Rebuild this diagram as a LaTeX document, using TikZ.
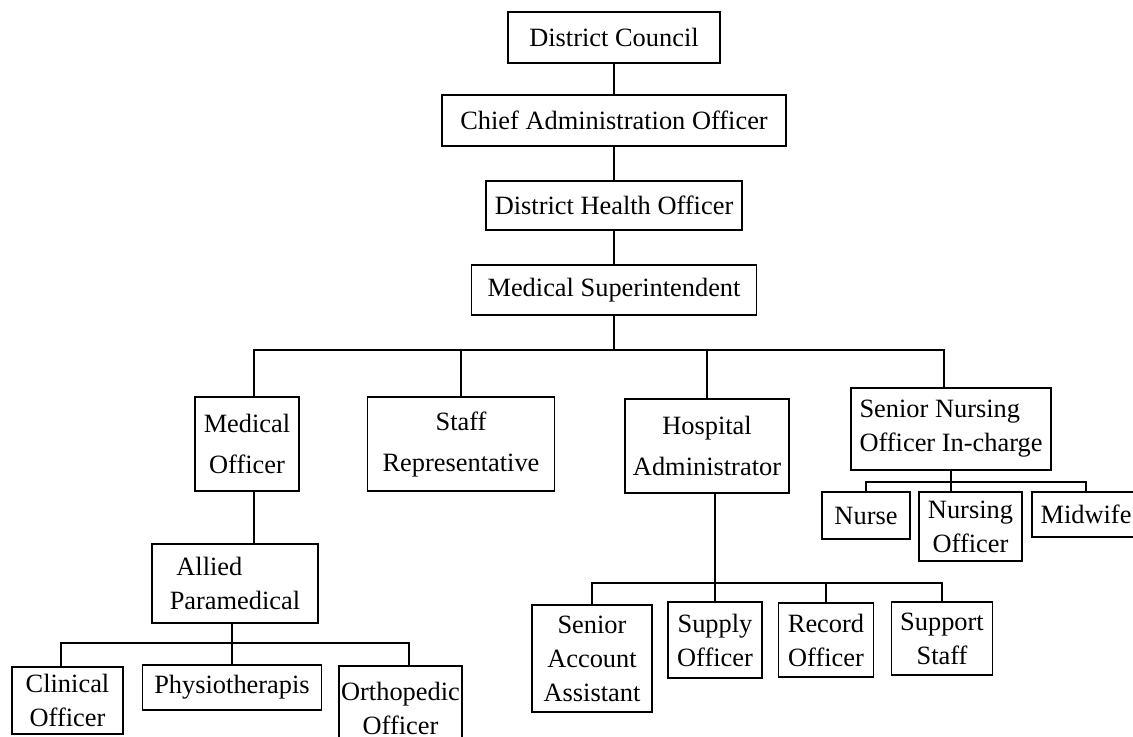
\documentclass[tikz,border=0pt]{standalone}
\usepackage{fontspec}
\setmainfont{Liberation Serif}

\tikzset{
	unit/.style={draw, line width=0.9pt, inner sep=0pt, align=center,
		font=\fontsize{13.2}{17}\selectfont},
	wideunit/.style={unit, font=\fontsize{13.2}{20.5}\selectfont},
	link/.style={line width=0.9pt}
}

\begin{document}
\begin{tikzpicture}[x=0.5pt, y=-0.5pt]
			\useasboundingbox (0,0) rectangle (1133,736);
			\node (dc) [unit, minimum width=106pt, minimum height=25.5pt] at (614,37.5) {District Council};
			\node (cao) [unit, minimum width=172pt, minimum height=25.5pt] at (614,120.5) {Chief Administration Officer};
			\node (dho) [unit, minimum width=128pt, minimum height=24.5pt] at (614,205.5) {District Health Officer};
			\node (ms) [unit, minimum width=142.5pt, minimum height=25pt] at (614,290) {Medical Superintendent};
			\node (mo) [wideunit, minimum width=52pt, minimum height=47pt] at (247,444) {Medical\\Officer};
			\node (sr) [wideunit, minimum width=93.5pt, minimum height=47pt] at (461,444) {Staff\\Representative};
			\node (ha) [wideunit, minimum width=82pt, minimum height=47pt] at (707,446) {Hospital\\Administrator};
			\node (sno) [unit, align=left, minimum width=100pt, minimum height=41pt] at (951,429) {Senior Nursing\\Officer In-charge};
			\node (nurse) [unit, minimum width=44pt, minimum height=23.5pt] at (866,515.5) {Nurse};
			\node (no) [unit, minimum width=51.5pt, minimum height=34.5pt] at (970.5,526.5) {Nursing\\Officer};
			\node (mw) [unit, minimum width=54pt, minimum height=22.5pt] at (1086,514.5) {Midwife};
			\node (ap) [unit, align=left, minimum width=83pt, minimum height=39.5pt] at (235,583.5) {\ Allied\\Paramedical};
			\node (co) [unit, minimum width=55.5pt, minimum height=33.5pt] at (67.5,700.5) {Clinical\\Officer};
			\node (ph) [unit, minimum width=89.5pt, minimum height=22.5pt] at (232,687.5) {Physiotherapis};
			\node (op) [unit, minimum width=61.5pt, minimum height=42pt] at (400.5,708) {Orthopedic\\Officer};
			\node (saa) [unit, minimum width=60pt, minimum height=53.5pt] at (592,658.5) {Senior\\Account\\Assistant};
			\node (so) [unit, minimum width=47pt, minimum height=38pt] at (715,640) {Supply\\Officer};
			\node (ro) [unit, minimum width=47.5pt, minimum height=37pt] at (826,640) {Record\\Officer};
			\node (ss) [unit, minimum width=50.5pt, minimum height=36.5pt] at (942,638.5) {Support\\Staff};

			\coordinate (bus) at (614,350);
			\coordinate (apbus) at (232,643);
			\coordinate (habus) at (715,583);
			\coordinate (snobus) at (951,482);

			\draw [link] (dc) -- (cao) -- (dho) -- (ms) -- (bus);
			\draw [link] ([xshift=3.5pt]mo.north) |- (bus) -| ([xshift=-3.5pt]sno.north);
			\draw [link] (sr.north) -- (sr.north |- bus);
			\draw [link] (ha.north) -- (ha.north |- bus);
			\draw [link] ([xshift=3.5pt]mo.south) -- ([xshift=9.5pt]ap.north);
			\draw [link] (ph.north) -- (ph.north |- ap.south);
			\draw [link] ([xshift=-3.25pt]co.north) |- (apbus) -| ([xshift=4.25pt]op.north);
			\draw [link] (so.north) -- (so.north |- ha.south);
			\draw [link] (saa.north) |- (habus) -| (ss.north);
			\draw [link] (ro.north) -- (ro.north |- habus);
			\draw [link] (sno.south) -- (sno.south |- no.north);
			\draw [link] (nurse.north) |- (snobus) -| (mw.north);
		\end{tikzpicture}
\end{document}
